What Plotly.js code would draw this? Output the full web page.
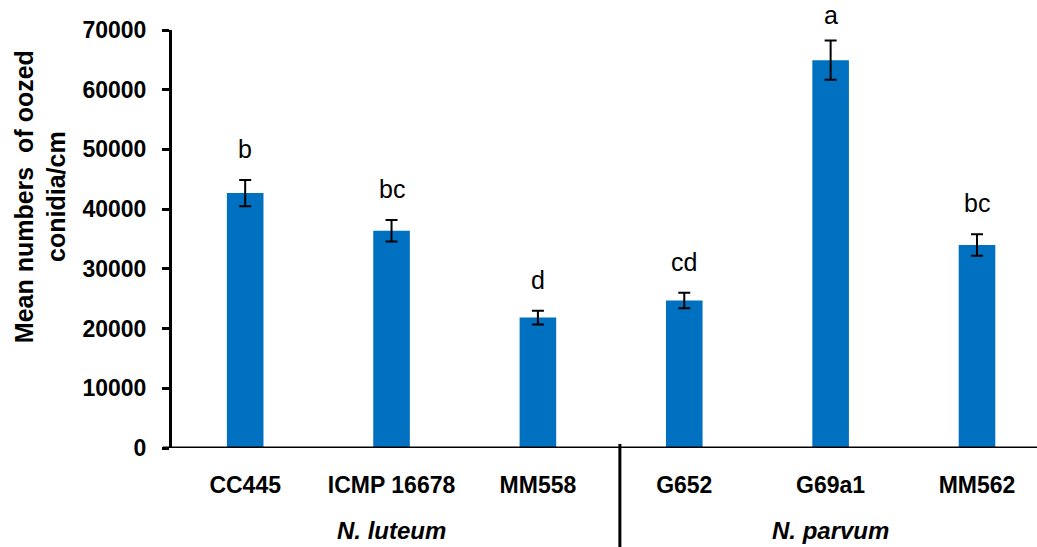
<!DOCTYPE html>
<html>
<head>
<meta charset="utf-8">
<script src="https://cdn.plot.ly/plotly-3.0.1.min.js"></script>
<style>html,body{margin:0;padding:0;background:#fff;}#chart{width:1037px;height:547px;}</style>
</head>
<body>
<div id="chart"></div>
<script>
const categories = ["CC445", "ICMP 16678", "MM558", "G652", "G69a1", "MM562"];
const means = [42700, 36400, 21850, 24700, 64950, 34000];
const errors = [2200, 1800, 1150, 1300, 3300, 1800];
const letters = ["b", "bc", "d", "cd", "a", "bc"];
const groups = ["N. luteum", "N. parvum"];
const groupCenters = [1, 4];
const yTicks = [0, 10000, 20000, 30000, 40000, 50000, 60000, 70000];

const FONT = "Liberation Sans, Arial, sans-serif";
const idx = categories.map((c, i) => i);

const trace = {
  type: "bar",
  x: idx,
  y: means,
  width: 0.25,
  marker: {color: "#0070C0"},
  error_y: {type: "data", array: errors, visible: true, color: "#000", thickness: 2, width: 6},
  hoverinfo: "none"
};

const annotations = [];
letters.forEach((l, i) => {
  const top = means[i] + errors[i];
  annotations.push({x: i, y: top, xref: "x", yref: "y", text: l,
    showarrow: false, yanchor: "bottom", yshift: top > 60000 ? 9 : 15,
    font: {family: FONT, size: 25, color: "#000"}});
});
groups.forEach((g, i) => {
  annotations.push({x: groupCenters[i], y: 0, xref: "x", yref: "paper", text: "<b><i>" + g + "</i></b>",
    showarrow: false, yanchor: "middle", yshift: -82,
    font: {family: FONT, size: 24, color: "#000"}});
});
annotations.push({x: 0, y: 0.6, xref: "paper", yref: "paper", xanchor: "center", yanchor: "middle",
  xshift: -132, textangle: -90, showarrow: false,
  text: "<b>Mean numbers  of oozed<br>conidia/cm</b>",
  font: {family: FONT, size: 25, color: "#000"}});

const layout = {
  width: 1037, height: 547,
  margin: {l: 172, r: 0, t: 30, b: 99, pad: 0},
  paper_bgcolor: "#fff", plot_bgcolor: "#fff",
  showlegend: false,
  xaxis: {
    range: [-0.5, 5.41], tickmode: "array", tickvals: idx, ticktext: categories.map(c => "<b>" + c + "</b>"),
    showgrid: false, zeroline: false, showline: false, ticks: "",
    tickfont: {family: FONT, size: 23, color: "#000"}, ticklabelstandoff: 21
  },
  yaxis: {
    range: [0, 70000], tickmode: "array", tickvals: yTicks, ticktext: yTicks.map(v => "<b>" + v + "</b>"),
    showgrid: false, zeroline: false, showline: true, linecolor: "#000", linewidth: 3,
    ticks: "outside", ticklen: 7, tickwidth: 3, tickcolor: "#000",
    tickfont: {family: FONT, size: 23, color: "#000"}, ticklabelstandoff: 11
  },
  shapes: [
    {type: "line", xref: "paper", yref: "y", x0: -0.0105, x1: 1, y0: 0, y1: 0, line: {color: "#000", width: 3}},
    {type: "line", xref: "x", yref: "paper", x0: 2.56, x1: 2.56, y0: 0.0096, y1: -0.24, line: {color: "#000", width: 3}}
  ],
  annotations: annotations
};

Plotly.newPlot("chart", [trace], layout, {staticPlot: true, displayModeBar: false});
</script>
</body>
</html>
